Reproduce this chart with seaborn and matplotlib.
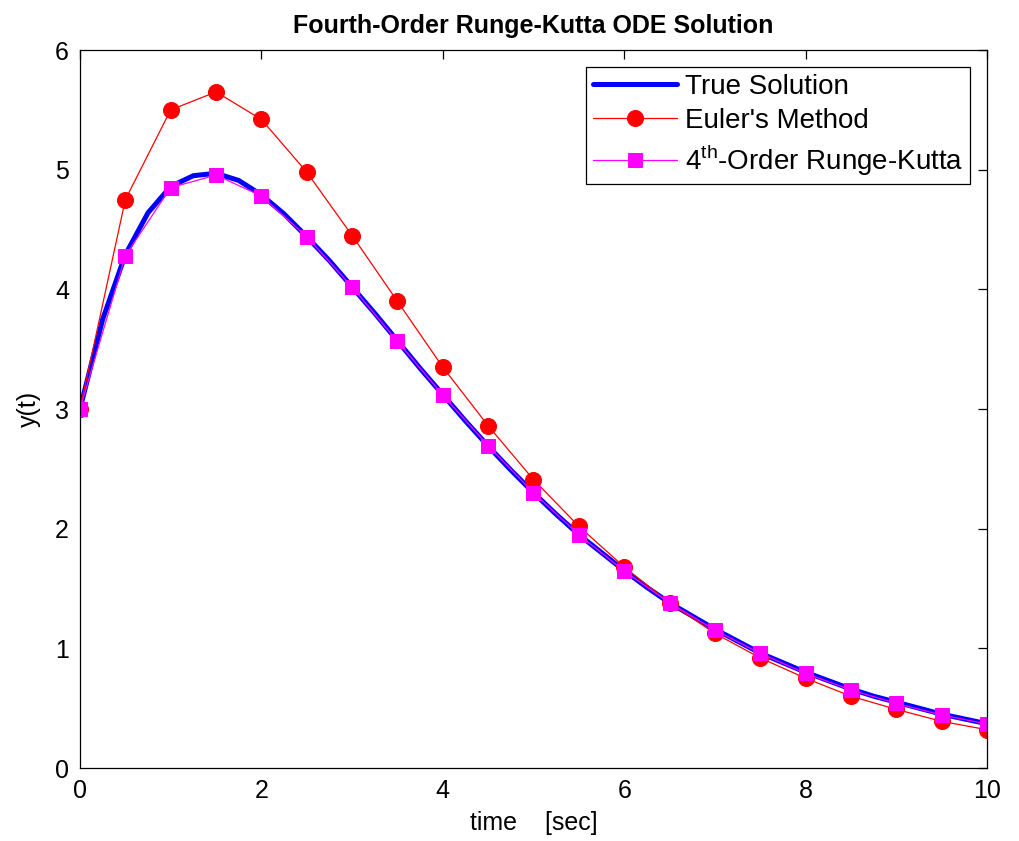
import matplotlib
matplotlib.use("Agg")
import matplotlib.pyplot as plt
import seaborn as sns
import pandas as pd

# Time grids
t_true = [0.0, 0.25, 0.5, 0.75, 1.0, 1.25, 1.5, 1.75, 2.0, 2.25, 2.5, 2.75, 3.0, 3.25,
          3.5, 3.75, 4.0, 4.25, 4.5, 4.75, 5.0, 5.25, 5.5, 5.75, 6.0, 6.25, 6.5, 6.75,
          7.0, 7.25, 7.5, 7.75, 8.0, 8.25, 8.5, 8.75, 9.0, 9.25, 9.5, 9.75, 10.0]
t_step = [0.0, 0.5, 1.0, 1.5, 2.0, 2.5, 3.0, 3.5, 4.0, 4.5, 5.0, 5.5, 6.0, 6.5, 7.0,
          7.5, 8.0, 8.5, 9.0, 9.5, 10.0]

# Exact solution
y_true = [3.00, 3.75, 4.29, 4.64, 4.86, 4.95, 4.97, 4.91, 4.79, 4.63, 4.44, 4.24, 4.02,
          3.80, 3.57, 3.34, 3.12, 2.90, 2.69, 2.49, 2.30, 2.12, 1.95, 1.80, 1.65, 1.51,
          1.38, 1.27, 1.16, 1.06, 0.96, 0.88, 0.80, 0.73, 0.66, 0.60, 0.55, 0.50, 0.45,
          0.41, 0.37]

# Euler's method, h = 0.5
y_euler = [3.00, 4.75, 5.50, 5.65, 5.42, 4.98, 4.45, 3.90, 3.35, 2.86, 2.41, 2.02, 1.68,
           1.38, 1.125, 0.92, 0.75, 0.60, 0.49, 0.39, 0.32]

# Classic fourth-order Runge-Kutta, h = 0.5
y_rk4 = [3.00, 4.28, 4.85, 4.955, 4.78, 4.44, 4.02, 3.565, 3.117, 2.693, 2.30, 1.95,
         1.646, 1.38, 1.153, 0.958, 0.791, 0.652, 0.540, 0.443, 0.368]

df_true = pd.DataFrame({"t": t_true, "y": y_true})
df_euler = pd.DataFrame({"t": t_step, "y": y_euler})
df_rk4 = pd.DataFrame({"t": t_step, "y": y_rk4})

sns.set_style("white")
plt.rcParams["font.family"] = ["Liberation Sans", "DejaVu Sans"]
plt.rcParams["text.color"] = "black"
plt.rcParams["axes.labelcolor"] = "black"
plt.rcParams["xtick.color"] = "black"
plt.rcParams["ytick.color"] = "black"

fig = plt.figure(figsize=(10.19, 8.41), dpi=100)
ax = fig.add_axes([0.0785, 0.0868, 0.8901, 0.8537])

sns.lineplot(data=df_true, x="t", y="y", ax=ax, color="#0000ff", linewidth=3.6,
             label="True Solution", sort=False)
sns.lineplot(data=df_euler, x="t", y="y", ax=ax, color="#ff0000", linewidth=0.9,
             marker="o", markersize=11.5, markeredgecolor="#ff0000",
             markerfacecolor="#ff0000", label="Euler's Method", sort=False)
sns.lineplot(data=df_rk4, x="t", y="y", ax=ax, color="#ff00ff", linewidth=0.9,
             marker="s", markersize=10, markeredgecolor="#ff00ff",
             markerfacecolor="#ff00ff", label="4$^{\\mathregular{th}}$-Order Runge-Kutta",
             sort=False)

ax.set_xlim(0, 10)
ax.set_ylim(0, 6)
ax.set_xticks([0, 2, 4, 6, 8, 10])
ax.set_yticks([0, 1, 2, 3, 4, 5, 6])
ax.tick_params(direction="in", length=6.5, width=0.9, top=True, right=True,
               labelsize=18, colors="black", pad=8)
for side in ax.spines.values():
    side.set_color("black")
    side.set_linewidth(0.9)

ax.set_title("Fourth-Order Runge-Kutta ODE Solution", fontsize=18, fontweight="bold",
             color="black", pad=12)
ax.set_xlabel("time    [sec]", fontsize=18, labelpad=6)
ax.set_ylabel("y(t)", fontsize=18, labelpad=10)

leg = ax.legend(loc="upper right", fontsize=20, handlelength=3.0, handletextpad=0.3,
                borderpad=0.25, labelspacing=0.3, frameon=True, fancybox=False,
                framealpha=1, borderaxespad=0.6)
leg.get_frame().set_edgecolor("black")
leg.get_frame().set_linewidth(0.9)
for txt in leg.get_texts():
    txt.set_color("black")

fig.savefig("out.png", dpi=100, facecolor="white")
